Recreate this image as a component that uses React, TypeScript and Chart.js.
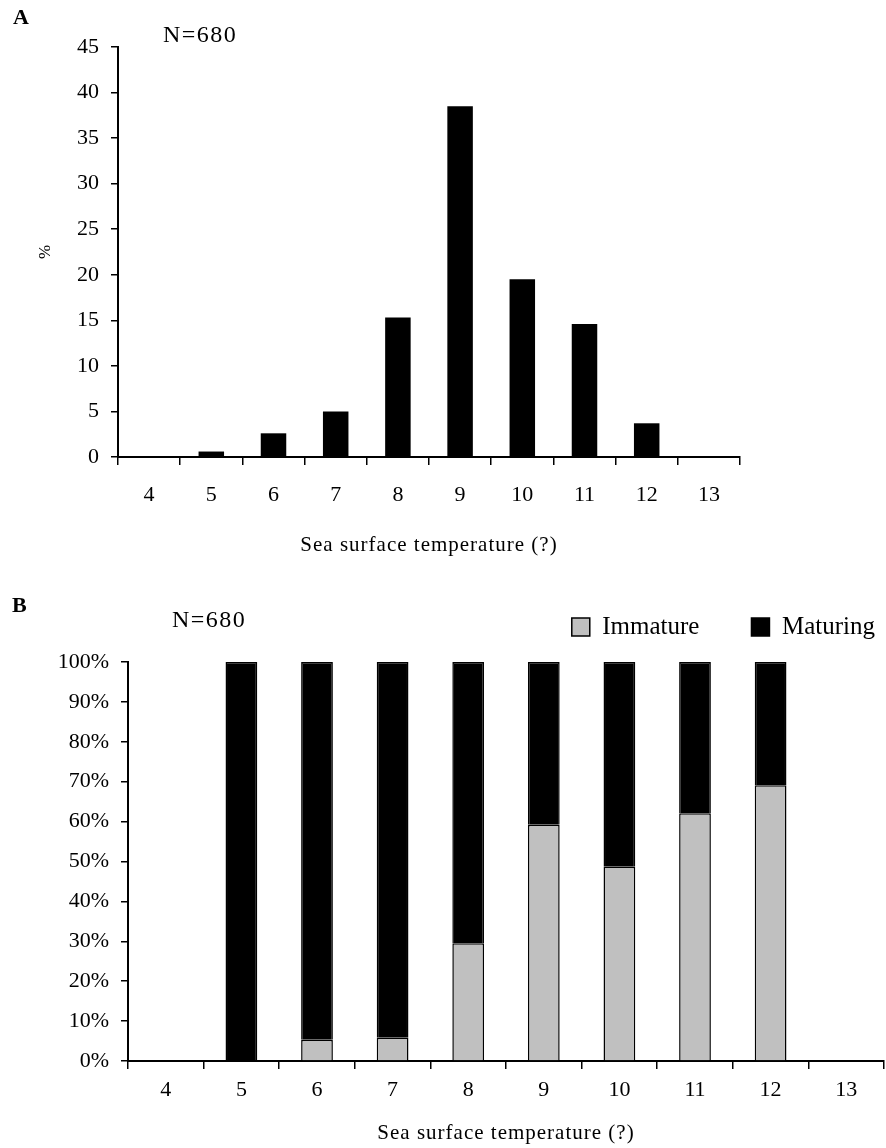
import React, { useEffect, useRef } from 'react';
import { Chart, registerables } from 'chart.js';

Chart.register(...registerables);

const FONT = '"Liberation Serif", "Times New Roman", serif';

const categories = ['4', '5', '6', '7', '8', '9', '10', '11', '12', '13'];
const percentA = [0, 0.6, 2.6, 5.0, 15.3, 38.5, 19.5, 14.6, 3.7, 0];
const immatureB = [null, 0, 5.3, 5.8, 29.5, 59.2, 48.7, 62.1, 69.1, null];
const maturingB = [null, 100, 94.7, 94.2, 70.5, 40.8, 51.3, 37.9, 30.9, null];
const xTitle = 'Sea surface temperature (?)';
const yTitleA = '%';
const nLabel = 'N=680';
const seriesNames = ['Immature', 'Maturing'];

const titleSpacingPlugin = {
  id: 'titleSpacing',
  afterLayout(chart: any) {
    const xs = chart.scales.x;
    if (xs && !xs._lsPatched) {
      const orig = xs.drawTitle.bind(xs);
      xs.drawTitle = (...args: any[]) => {
        const c = xs.ctx;
        const prev = c.letterSpacing;
        c.letterSpacing = '1px';
        orig(...args);
        c.letterSpacing = prev;
      };
      xs._lsPatched = true;
    }
  },
};

const legendPlacePlugin = {
  id: 'legendPlace',
  afterLayout(chart: any) {
    const lg = chart.legend;
    if (lg) {
      lg.top = -7.5;
      lg.right = 927;
    }
  },
};

function ChartA() {
  const ref = useRef<HTMLCanvasElement>(null);
  useEffect(() => {
    const H = 570;
    const chart = new Chart(ref.current!, {
      type: 'bar',
      data: {
        labels: categories,
        datasets: [
          {
            label: '%',
            data: percentA,
            backgroundColor: '#000',
            borderWidth: 0,
            barPercentage: 0.41,
            categoryPercentage: 1,
          },
        ],
      },
      options: {
        animation: false,
        responsive: false,
        maintainAspectRatio: false,
        layout: { padding: { top: 47, left: 0, right: 146, bottom: 0 } },
        plugins: { legend: { display: false }, tooltip: { enabled: false } },
        scales: {
          x: {
            grid: { drawOnChartArea: false, drawTicks: true, tickLength: 8, color: '#000', lineWidth: 1.5, offset: true },
            border: { display: true, color: '#000', width: 2 },
            ticks: { color: '#000', font: { family: FONT, size: 22 }, padding: 17 },
            title: { display: true, text: xTitle, color: '#000', font: { family: FONT, size: 21 }, padding: { top: 0, bottom: 12 } },
            afterFit: (s: any) => { s.height = H - 457; },
          },
          y: {
            min: 0,
            max: 45,
            ticks: { stepSize: 5, color: '#000', font: { family: FONT, size: 22 }, padding: 12 },
            grid: { drawOnChartArea: false, tickLength: 7, color: '#000', lineWidth: 1.5 },
            border: { display: true, color: '#000', width: 2 },
            title: { display: true, text: yTitleA, color: '#000', font: { family: FONT, size: 17 }, padding: { top: 35, bottom: 0 } },
            afterFit: (s: any) => { s.width = 118; },
          },
        },
      },
      plugins: [titleSpacingPlugin],
    } as any);
    return () => chart.destroy();
  }, []);
  return <canvas ref={ref} width={886} height={570} style={{ position: 'absolute', left: 0, top: 0, width: 886, height: 570 }} />;
}

function ChartB() {
  const ref = useRef<HTMLCanvasElement>(null);
  useEffect(() => {
    const H = 578;
    const chart = new Chart(ref.current!, {
      type: 'bar',
      data: {
        labels: categories,
        datasets: [
          {
            label: seriesNames[0],
            data: immatureB,
            backgroundColor: '#c0c0c0',
            borderColor: '#000',
            borderWidth: 1.5,
            barPercentage: 0.42,
            categoryPercentage: 1,
          },
          {
            label: seriesNames[1],
            data: maturingB,
            backgroundColor: '#000',
            borderColor: '#000',
            borderWidth: 1.5,
            barPercentage: 0.42,
            categoryPercentage: 1,
          },
        ],
      },
      options: {
        animation: false,
        responsive: false,
        maintainAspectRatio: false,
        layout: { padding: { top: 5, left: 0, right: 2, bottom: 0 } },
        plugins: {
          tooltip: { enabled: false },
          legend: {
            display: true,
            position: 'top',
            align: 'end',
            labels: { boxWidth: 18, boxHeight: 18, padding: 52, color: '#000', font: { family: FONT, size: 25 } },
          },
        },
        scales: {
          x: {
            stacked: true,
            grid: { drawOnChartArea: false, drawTicks: true, tickLength: 8, color: '#000', lineWidth: 1.5, offset: true },
            border: { display: true, color: '#000', width: 2 },
            ticks: { color: '#000', font: { family: FONT, size: 22 }, padding: 8 },
            title: { display: true, text: xTitle, color: '#000', font: { family: FONT, size: 21 }, padding: { top: 0, bottom: 2 } },
            afterFit: (s: any) => { s.height = H - 491; },
          },
          y: {
            stacked: true,
            min: 0,
            max: 100,
            ticks: { stepSize: 10, color: '#000', font: { family: FONT, size: 22 }, padding: 12, callback: (v: any) => v + '%' },
            grid: { drawOnChartArea: false, tickLength: 7, color: '#000', lineWidth: 1.5 },
            border: { display: true, color: '#000', width: 2 },
            afterFit: (s: any) => { s.width = 128; },
          },
        },
      },
      plugins: [titleSpacingPlugin, legendPlacePlugin],
    } as any);
    return () => chart.destroy();
  }, []);
  return <canvas ref={ref} width={886} height={578} style={{ position: 'absolute', left: 0, top: 570, width: 886, height: 578 }} />;
}

const labelStyle: React.CSSProperties = {
  position: 'absolute',
  fontFamily: FONT,
  lineHeight: 1,
  color: '#000',
  whiteSpace: 'nowrap',
};

export default function App() {
  return (
    <div style={{ position: 'absolute', left: 0, top: 0, width: 886, height: 1148, background: '#fff', overflow: 'hidden' }}>
      <ChartA />
      <ChartB />
      <div style={{ ...labelStyle, left: 13, top: 6, fontSize: 22, fontWeight: 'bold' }}>A</div>
      <div style={{ ...labelStyle, left: 163, top: 22, fontSize: 24, letterSpacing: 1.5 }}>{nLabel}</div>
      <div style={{ ...labelStyle, left: 12, top: 594, fontSize: 22, fontWeight: 'bold' }}>B</div>
      <div style={{ ...labelStyle, left: 172, top: 607, fontSize: 24, letterSpacing: 1.5 }}>{nLabel}</div>
    </div>
  );
}
